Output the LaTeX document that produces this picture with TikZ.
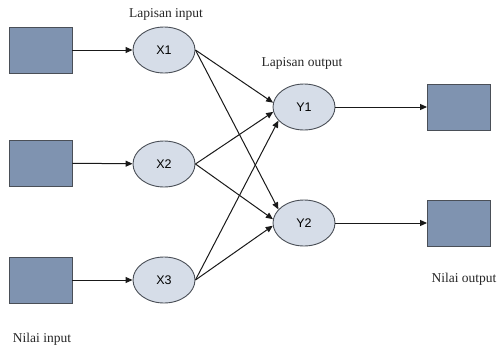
\documentclass[tikz,border=0pt]{standalone}
\usepackage{fontspec}
\setmainfont{Liberation Serif}
\newfontfamily\lsans{Liberation Sans}
\usetikzlibrary{shapes.geometric,arrows.meta}
\definecolor{boxfill}{HTML}{7F93B0}
\definecolor{ellfill}{HTML}{D6DDE8}
\definecolor{edge}{HTML}{4A4F57}
\tikzset{
  valbox/.style={draw=edge, fill=boxfill, line width=0.9pt, minimum width=63pt, minimum height=46pt, inner sep=0pt},
  neuron/.style={ellipse, draw=edge, fill=ellfill, line width=0.9pt, minimum width=62pt, minimum height=46pt, inner sep=0pt, font=\lsans\fontsize{12.5}{14}\selectfont},
  lbl/.style={font=\fontsize{13.5}{15}\selectfont, inner sep=0pt, text=black!85},
  conn/.style={line width=1pt, black!90, -{Triangle[length=7pt,width=6pt]}}
}
\begin{document}
\begin{tikzpicture}[x=1pt,y=-1pt]
\useasboundingbox (0,0) rectangle (499,349);
\node[valbox] (i1) at (40.5,50) {};
\node[valbox] (i2) at (40.5,163) {};
\node[valbox] (i3) at (40.5,280) {};
\node[neuron] (x1) at (164,50) {X1};
\node[neuron] (x2) at (164,164) {X2};
\node[neuron] (x3) at (164,280) {X3};
\node[neuron] (y1) at (304,107) {Y1};
\node[neuron] (y2) at (304,223) {Y2};
\node[valbox] (o1) at (459,107) {};
\node[valbox] (o2) at (459,223) {};
\node[lbl] (l1) at (166,14) {Lapisan input};
\node[lbl] (l2) at (302,63) {Lapisan output};
\node[lbl] (l3) at (42,339) {Nilai input};
\node[lbl] (l4) at (464,279) {Nilai output};
\draw[conn] (i1) -- (x1);
\draw[conn] (i2) -- (x2);
\draw[conn] (i3) -- (x3);
\draw[conn] (y1) -- (o1);
\draw[conn] (y2) -- (o2);
\draw[conn] (x1.east) -- (y1.172);
\draw[conn] (x1.east) -- (y2.152);
\draw[conn] (x2.east) -- (y1.189);
\draw[conn] (x2.east) -- (y2.173);
\draw[conn] (x3.east) -- (y1.208);
\draw[conn] (x3.east) -- (y2.185);
\end{tikzpicture}
\end{document}
